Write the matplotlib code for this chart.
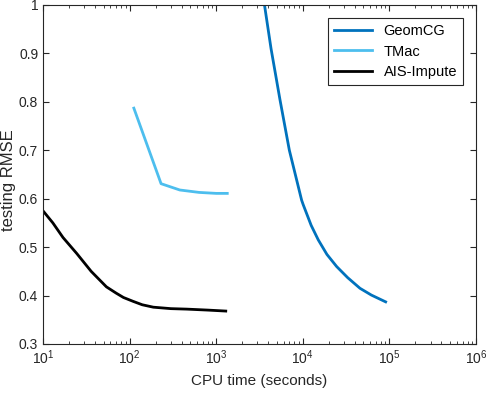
import matplotlib
matplotlib.use("Agg")
import matplotlib.pyplot as plt
from matplotlib.ticker import LogLocator, NullFormatter

plt.rcParams['font.family'] = ['Liberation Sans', 'DejaVu Sans']

# GeomCG
geom_t = [3300, 3614, 4300, 5460, 7000, 9700, 10100, 12500, 15100, 19000, 24600, 33000, 45800, 62000, 90600]
geom_rmse = [1.04, 1.0, 0.91, 0.804, 0.70, 0.597, 0.588, 0.545, 0.515, 0.485, 0.46, 0.437, 0.415, 0.401, 0.387]

# TMac
tmac_t = [112, 231, 380, 635, 1000, 1343]
tmac_rmse = [0.787, 0.631, 0.618, 0.613, 0.611, 0.611]

# AIS-Impute
ais_t = [10, 13, 17, 24.5, 36, 54, 70, 85, 110, 140, 188, 300, 457, 800, 1290]
ais_rmse = [0.575, 0.55, 0.52, 0.487, 0.45, 0.418, 0.405, 0.396, 0.388, 0.381, 0.376, 0.373, 0.372, 0.370, 0.368]

yticks = [0.3, 0.4, 0.5, 0.6, 0.7, 0.8, 0.9, 1.0]
ylabels = ['0.3', '0.4', '0.5', '0.6', '0.7', '0.8', '0.9', '1']

fig = plt.figure(figsize=(4.87, 3.93), dpi=100)
ax = fig.add_axes([0.0883, 0.1247, 0.889, 0.8626])

ax.plot(geom_t, geom_rmse, color='#0072BD', lw=2, label='GeomCG')
ax.plot(tmac_t, tmac_rmse, color='#4DBEEE', lw=2, label='TMac')
ax.plot(ais_t, ais_rmse, color='black', lw=2, label='AIS-Impute')

ax.set_xscale('log')
ax.set_xlim(10, 1e6)
ax.set_ylim(0.3, 1.0)
ax.set_yticks(yticks)
ax.set_yticklabels(ylabels)
ax.xaxis.set_major_locator(LogLocator(base=10, numticks=10))
ax.xaxis.set_minor_locator(LogLocator(base=10, subs=range(2, 10), numticks=20))
ax.xaxis.set_minor_formatter(NullFormatter())

c = '#262626'
for s in ax.spines.values():
    s.set_color(c)
    s.set_linewidth(0.8)
ax.tick_params(which='both', direction='in', top=True, right=True, colors=c, labelsize=10)
ax.tick_params(which='major', length=4)
ax.tick_params(which='minor', length=2)

ax.set_xlabel('CPU time (seconds)', fontsize=11, color=c, labelpad=5)
ax.set_ylabel('testing RMSE', fontsize=12, color=c)
ax.yaxis.set_label_coords(-0.063, 0.482)

leg = ax.legend(loc='upper right', fontsize=10.5, fancybox=False, framealpha=1,
                edgecolor=c, handlelength=2.6, borderaxespad=0.9, labelspacing=0.45)
leg.get_frame().set_linewidth(0.8)

fig.savefig('out.png', dpi=100)
